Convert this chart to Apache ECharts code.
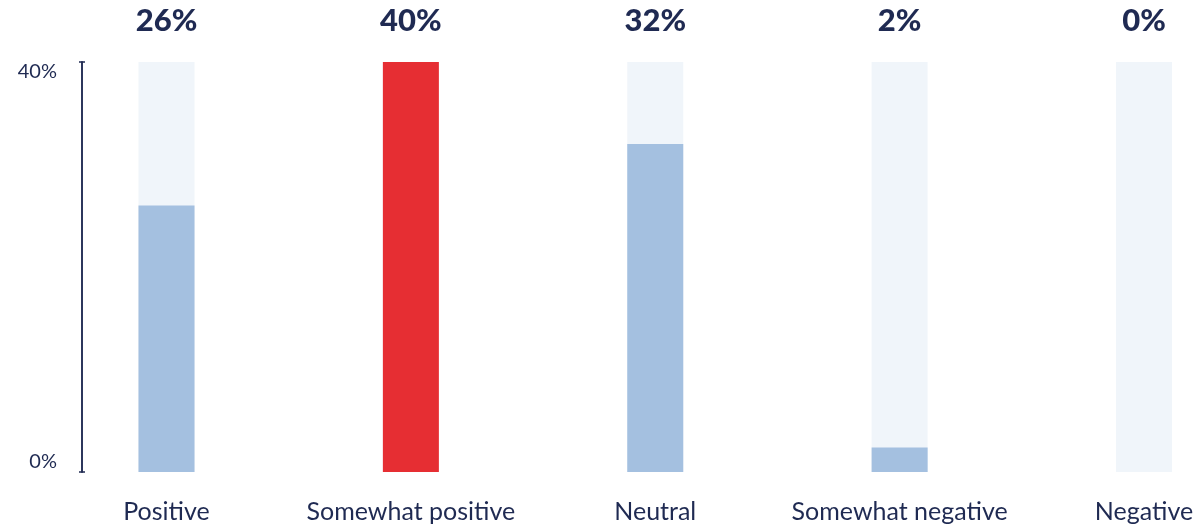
<!DOCTYPE html>
<html><head><meta charset="utf-8">
<script src="https://cdn.jsdelivr.net/npm/echarts@6/dist/echarts.min.js"></script>
<style>html,body{margin:0;padding:0;background:#fff}#c{width:1200px;height:528px}</style>
</head><body><div id="c"></div>
<script>
const categories = ['Positive', 'Somewhat positive', 'Neutral', 'Somewhat negative', 'Negative'];
const values = [26, 40, 32, 2.4, 0];
const labels = ['26%', '40%', '32%', '2%', '0%'];
const highlightIndex = 1;
const axisMax = 40;
const yTicks = [0, 40];

const navy = '#1f2a52';
const font = 'Lato';
const chart = echarts.init(document.getElementById('c'), null, {renderer: 'canvas'});
const yBase = {
  type: 'value', min: 0, max: axisMax, interval: 40, position: 'left', offset: 84.5,
  splitLine: {show: false},
  axisLine: {show: true, lineStyle: {color: navy, width: 1.5}}
};
chart.setOption({
  animation: false,
  grid: {left: 166.5, right: 56, top: 62, bottom: 56},
  xAxis: {
    type: 'category', data: categories, boundaryGap: false,
    axisLine: {show: false}, axisTick: {show: false},
    axisLabel: {color: navy, fontFamily: font, fontSize: 25, margin: 27, interval: 0}
  },
  yAxis: [
    Object.assign({}, yBase, {
      axisTick: {show: true, length: 3, lineStyle: {color: navy, width: 1.5}},
      axisLabel: {show: true, color: navy, fontFamily: font, fontSize: 20, margin: 25,
        formatter: v => v + '%', verticalAlignMinLabel: 'bottom', verticalAlignMaxLabel: 'top'}
    }),
    Object.assign({}, yBase, {
      axisTick: {show: true, inside: true, length: 3, lineStyle: {color: navy, width: 1.5}},
      axisLabel: {show: false}
    })
  ],
  series: [
    {
      type: 'bar', data: categories.map(() => axisMax), barWidth: 56, barGap: '-100%',
      itemStyle: {color: '#f0f5fa'}, silent: true,
      label: {show: true, position: 'top', distance: 26, color: navy, fontFamily: font,
        fontWeight: 900, fontSize: 31, formatter: p => labels[p.dataIndex]}
    },
    {
      type: 'bar', barWidth: 56, barGap: '-100%',
      data: values.map((v, i) => ({value: v, itemStyle: {color: i === highlightIndex ? '#e62e33' : '#a4c0e0'}}))
    }
  ]
});
</script></body></html>
